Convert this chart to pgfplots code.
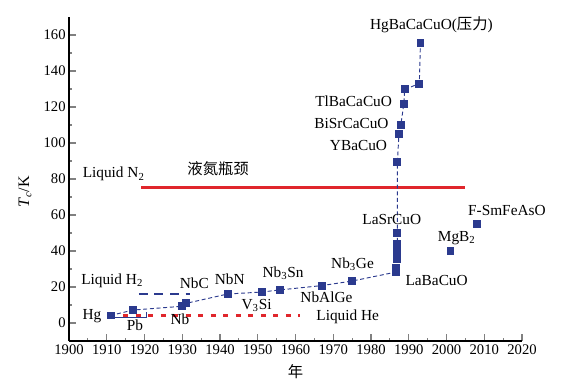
\documentclass[border=0pt]{standalone}
\usepackage{pgfplots}
\pgfplotsset{compat=1.18}
\usepackage{fontspec}
\setmainfont{Liberation Serif}
\newfontfamily\cjk{Noto Sans CJK SC}
\definecolor{navy}{HTML}{2B3A8E}
\definecolor{lred}{HTML}{E0262C}
\begin{document}
\begin{tikzpicture}[font=\fontsize{11.5}{13.5}\selectfont]
\begin{axis}[
  scale only axis, width=339.75pt, height=243pt,
  xmin=1900, xmax=2020, ymin=-10, ymax=170,
  axis x line*=bottom, axis y line*=left,
  axis line style={line width=0.8pt},
  tick align=inside,
  tick style={line width=0.8pt},
  xtick={1900,1910,...,2020}, ytick={0,20,...,160},
  minor x tick num=1, minor y tick num=1,
  major tick length=5pt, minor tick length=2.5pt,
  /pgf/number format/assume math mode=true,
  tick label style={font=\fontsize{11}{13}\selectfont},
  xticklabel={\pgfmathprintnumber[1000 sep={}]{\tick}},
  xticklabel style={yshift=1pt},
  yticklabel style={xshift=1pt},
  xlabel={\cjk 年},
  xlabel style={at={(axis description cs:0.5,-0.096)}, anchor=center},
  ylabel={\textit{T}\textsubscript{\textit{c}}/K},
  ylabel style={at={(axis description cs:-0.097,0.46)}, anchor=center, font=\fontsize{12}{14}\selectfont},
  clip=false,
]
% Liquid N2 line
\addplot[draw=lred, line width=1.8pt] coordinates {(1919.2,75.3) (2005,75.3)};
% Liquid He line
\addplot[draw=lred, line width=1.7pt, dash pattern=on 3.8pt off 5.6pt] coordinates {(1914.3,4.2) (1961.2,4.2)};
% Liquid H2 line
\addplot[draw=navy, line width=2.1pt, dash pattern=on 6.5pt off 5.2pt] coordinates {(1918.5,16.1) (1932,16.1)};
% small bracket under Pb
\addplot[draw=navy, line width=0.5pt] coordinates {(1912,3.4) (1920.5,3.4) (1920.5,6.0)};
% main chain
\addplot[draw=navy, densely dashed, line width=0.7pt, mark=square*, mark size=2.6pt, mark options={solid, fill=navy}] coordinates {
(1911,4.2) (1917,7.2) (1930,9.3) (1931,10.9) (1942,16.1) (1951,17.2) (1956,18.4)
(1967,20.8) (1975,23.3) (1986.6,28.3) (1986.7,30.5) (1986.9,35.8) (1987,40) (1987,44.2) (1987,49.8)
(1987,89.5) (1987.4,105) (1987.9,110) (1988.7,121.8) (1988.9,129.8) (1992.8,133) (1993.1,155.7)};
% isolated points
\addplot[draw=navy, only marks, mark=square*, mark size=2.6pt, mark options={fill=navy}] coordinates {(2001,40) (2008,55)};
% labels
\node[anchor=west] at (axis cs:1902.4,82.7) {Liquid N\textsubscript{2}};
\node at (axis cs:1939.5,86) {\cjk 液氮瓶颈};
\node at (axis cs:1996,165.6) {HgBaCaCuO({\cjk 压力})};
\node[anchor=east] at (axis cs:1986.8,123) {TlBaCaCuO};
\node[anchor=east] at (axis cs:1985.9,111) {BiSrCaCuO};
\node[anchor=east] at (axis cs:1985.5,98.5) {YBaCuO};
\node at (axis cs:1985.5,57.5) {LaSrCuO};
\node at (axis cs:2016,62.7) {F-SmFeAsO};
\node at (axis cs:2002.7,47.3) {MgB\textsubscript{2}};
\node at (axis cs:1975.1,32.5) {Nb\textsubscript{3}Ge};
\node[anchor=west] at (axis cs:1987.9,23.7) {LaBaCuO};
\node at (axis cs:1968.2,14.5) {NbAlGe};
\node[anchor=west] at (axis cs:1964.3,3.7) {Liquid He};
\node at (axis cs:1956.7,27.8) {Nb\textsubscript{3}Sn};
\node at (axis cs:1949.7,9.8) {V\textsubscript{3}Si};
\node at (axis cs:1942.6,24.1) {NbN};
\node at (axis cs:1933.2,21.9) {NbC};
\node[anchor=west] at (axis cs:1902,23.7) {Liquid H\textsubscript{2}};
\node[anchor=east] at (axis cs:1909.8,3.7) {Hg};
\node at (axis cs:1917.5,-1) {Pb};
\node at (axis cs:1929.4,1.9) {Nb};
\end{axis}
\path ([shift={(-51.75pt,-30pt)}]current axis.south west) rectangle ([shift={(30pt,12.75pt)}]current axis.north east);
\end{tikzpicture}
\end{document}
